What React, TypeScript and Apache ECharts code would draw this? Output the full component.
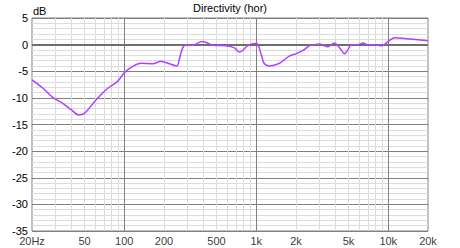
import React, { useEffect, useRef } from "react";
import * as echarts from "echarts";

const freqs = [20, 24, 29, 34, 40, 45, 50, 61, 75, 89, 100, 116, 134, 165, 190, 220, 250, 262, 277, 294, 340, 384, 418, 469, 590, 684, 745, 790, 862, 988, 1030, 1092, 1152, 1258, 1498, 1640, 1794, 2010, 2256, 2530, 2760, 3010, 3280, 3480, 3900, 4280, 4670, 4960, 5260, 5880, 6440, 6980, 8080, 8840, 9340, 10220, 11160, 13700, 20000];
const levels = [-6.6, -8.1, -10.0, -11.0, -12.3, -13.2, -12.9, -10.4, -8.2, -6.9, -5.3, -4.1, -3.5, -3.6, -3.1, -3.6, -4.0, -2.6, -0.6, 0, 0, 0.6, 0.4, -0.1, -0.2, -0.6, -1.4, -1.1, -0.2, 0.2, 0, -1.9, -3.6, -4.0, -3.5, -2.8, -2.1, -1.7, -1.1, -0.2, 0, 0.1, -0.2, -0.4, 0.3, -0.6, -1.7, -0.9, 0, 0, 0.3, 0, 0, -0.2, 0, 0.8, 1.3, 1.1, 0.75];

const xTickValues = [20, 50, 100, 200, 500, 1000, 2000, 5000, 10000, 20000];
const xTickTexts = ["20Hz", "50", "100", "200", "500", "1k", "2k", "5k", "10k", "20k"];
const xMinorGrid = [30, 40, 50, 60, 70, 80, 90, 200, 300, 400, 500, 600, 700, 800, 900, 2000, 3000, 4000, 5000, 6000, 7000, 8000, 9000];
const xMajorGrid = [100, 1000, 10000];

const FONT = "Liberation Sans";

export default function App() {
  const ref = useRef<HTMLDivElement>(null);
  useEffect(() => {
    if (!ref.current) return;
    const chart = echarts.init(ref.current, null, { renderer: "svg" });
    const curve = freqs.map((f, i) => [f, levels[i]]);
    chart.setOption({
      animation: false,
      backgroundColor: "#ffffff",
      title: [
        {
          text: "Directivity (hor)",
          left: "center",
          top: 2,
          padding: 0,
          textStyle: { fontSize: 11, fontWeight: "normal", color: "#000", fontFamily: FONT },
        },
        {
          text: "dB",
          left: 33,
          top: 5,
          padding: 0,
          textStyle: { fontSize: 11, fontWeight: "normal", color: "#000", fontFamily: FONT },
        },
      ],
      grid: {
        left: 32,
        right: 32,
        top: 18,
        bottom: 17,
        show: true,
        borderColor: "#808080",
        borderWidth: 1,
        backgroundColor: "transparent",
      },
      xAxis: {
        type: "log",
        logBase: 10,
        min: 20,
        max: 20000,
        axisLine: { show: false },
        axisTick: { show: false },
        axisLabel: { show: false },
        splitLine: { show: false },
      },
      yAxis: {
        type: "value",
        min: -35,
        max: 5,
        interval: 5,
        axisLine: { show: false },
        axisTick: { show: false },
        axisLabel: { color: "#000", fontSize: 11, lineHeight: 11, fontFamily: FONT, margin: 4, padding: [0, 0, 5, 0] },
        splitLine: { show: true, lineStyle: { color: "#808080", width: 1 } },
        minorTick: { show: false, splitNumber: 5 },
        minorSplitLine: { show: true, lineStyle: { color: "#dcdcdc", width: 1 } },
      },
      series: [
        {
          type: "line",
          data: curve,
          z: 1,
          silent: true,
          showSymbol: false,
          lineStyle: { opacity: 0 },
          markLine: {
            silent: true,
            symbol: "none",
            label: { show: false },
            lineStyle: { color: "#dcdcdc", width: 1, type: "solid" },
            data: xMinorGrid.map((v) => ({ xAxis: v })),
          },
        },
        {
          type: "line",
          data: curve,
          z: 3,
          silent: true,
          showSymbol: false,
          lineStyle: { opacity: 0 },
          markLine: {
            silent: true,
            symbol: "none",
            label: { show: false },
            lineStyle: { color: "#808080", width: 1, type: "solid" },
            data: [
              ...xMajorGrid.map((v) => ({ xAxis: v })),
              { yAxis: 0, lineStyle: { color: "#6e6e6e", width: 2 } },
            ],
          },
        },
        {
          type: "scatter",
          z: 4,
          silent: true,
          clip: false,
          symbolSize: 1,
          itemStyle: { color: "transparent" },
          data: xTickValues.map((v, i) => ({ value: [v, -35], name: xTickTexts[i] })),
          label: {
            show: true,
            position: "bottom",
            distance: 4,
            formatter: (p: any) => p.name,
            color: "#000",
            fontSize: 11,
            lineHeight: 11,
            fontFamily: FONT,
          },
        },
        {
          type: "line",
          data: curve,
          z: 5,
          smooth: 0.3,
          showSymbol: false,
          silent: true,
          lineStyle: { color: "#b040ff", width: 1.5 },
        },
      ],
    });
    return () => chart.dispose();
  }, []);
  return (
    <div
      ref={ref}
      style={{ position: "fixed", left: 0, top: 0, width: 460, height: 248 }}
    />
  );
}
